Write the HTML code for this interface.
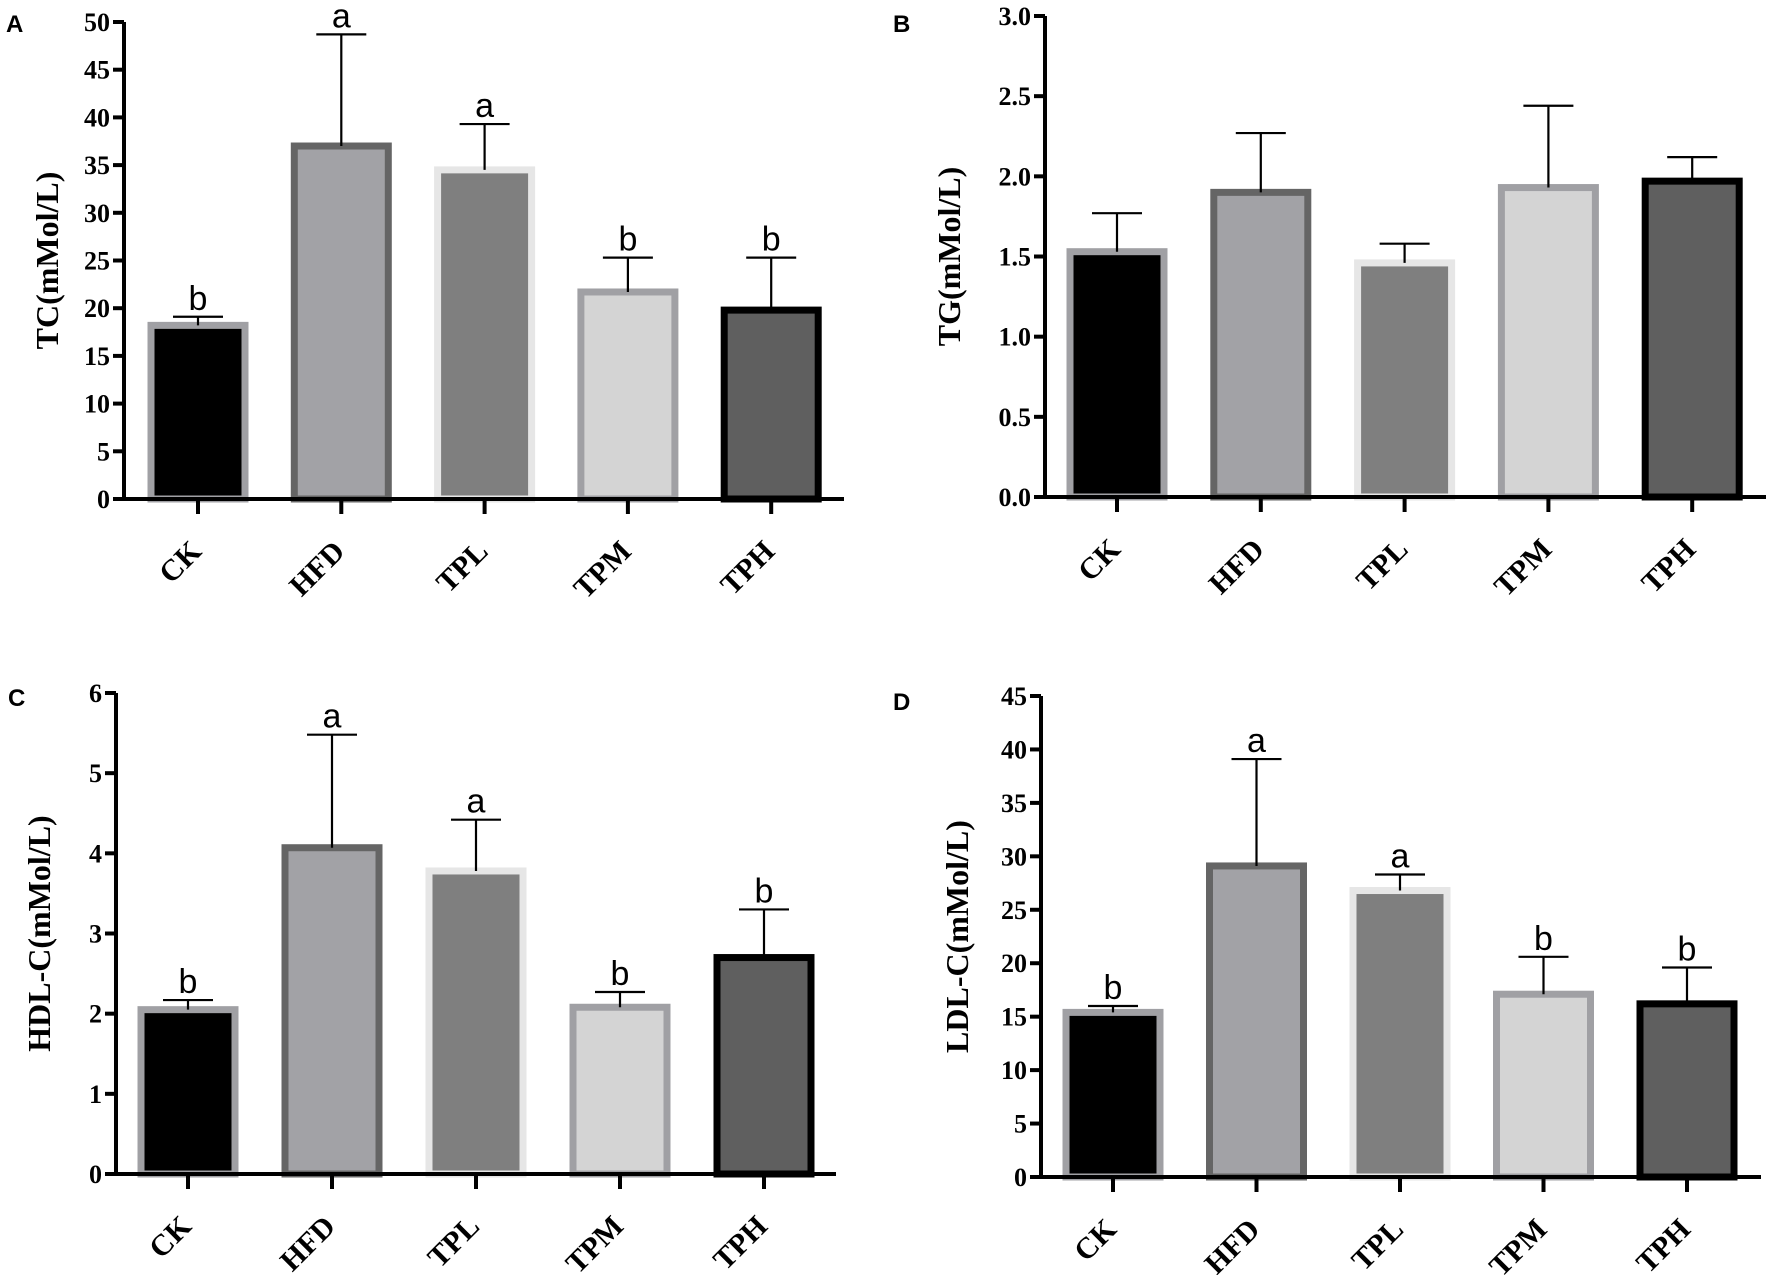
<!DOCTYPE html>
<html><head><meta charset="utf-8"><style>
html,body{margin:0;padding:0;background:#fff;}
svg{display:block;}
</style></head><body>
<svg id="fig" width="1772" height="1275" viewBox="0 0 1772 1275" xmlns="http://www.w3.org/2000/svg"></svg>
<script>
const categories = ["CK","HFD","TPL","TPM","TPH"];
const tcValues = [18.2, 37.0, 34.5, 21.7, 19.8];
const tcErr = [0.9, 11.7, 4.8, 3.6, 5.5];
const tcLetters = ["b","a","a","b","b"];
const tgValues = [1.53, 1.90, 1.46, 1.93, 1.97];
const tgErr = [0.24, 0.37, 0.12, 0.51, 0.15];
const tgLetters = ["","","","",""];
const hdlValues = [2.05, 4.07, 3.78, 2.08, 2.70];
const hdlErr = [0.12, 1.41, 0.64, 0.19, 0.60];
const hdlLetters = ["b","a","a","b","b"];
const ldlValues = [15.4, 29.1, 26.8, 17.1, 16.2];
const ldlErr = [0.6, 10.0, 1.5, 3.5, 3.4];
const ldlLetters = ["b","a","a","b","b"];
const tcTicks = ["0","5","10","15","20","25","30","35","40","45","50"];
const tgTicks = ["0.0","0.5","1.0","1.5","2.0","2.5","3.0"];
const hdlTicks = ["0","1","2","3","4","5","6"];
const ldlTicks = ["0","5","10","15","20","25","30","35","40","45"];

const fills = ["#000000","#a2a2a6","#7f7f7f","#d4d4d4","#5f5f5f"];
const strokes = ["#a0a0a4","#656565","#e6e6e6","#a0a0a4","#000000"];
const NS = "http://www.w3.org/2000/svg";
const svg = document.getElementById("fig");
function el(tag, attrs, parent){const e=document.createElementNS(NS,tag);for(const k in attrs)e.setAttribute(k,attrs[k]);(parent||svg).appendChild(e);return e;}

function panel(cfg){
  const g = el("g",{});
  
  
  const ymax = parseFloat(cfg.ticks[cfg.ticks.length-1]);
  const y = v => cfg.y0 - (v/ymax)*(cfg.y0-cfg.yTop);
  const x = i => cfg.x1 + i*cfg.step;
  const pl = el("text",{x:cfg.lx,y:cfg.ly,"font-family":"Liberation Sans, sans-serif","font-weight":"bold","font-size":"24"},g);
  pl.textContent = cfg.letter;
  
  
  cfg.values.forEach((v,i)=>{
    const w=94, top=y(v);
    const r = el("rect",{x:x(i)-w/2,y:top,width:w,height:cfg.y0-top,fill:fills[i],stroke:strokes[i],"stroke-width":7},g);
    
    
    const et = y(v+cfg.err[i]);
    const eb = el("path",{d:`M${x(i)},${top} V${et} M${x(i)-25},${et} H${x(i)+25}`,stroke:"#000","stroke-width":2.2,fill:"none"},g);
    
    
    if(cfg.letters[i]){
      const t = el("text",{x:x(i),y:et-7,"text-anchor":"middle","font-family":"Liberation Sans, sans-serif","font-size":"34"},g);
      t.textContent = cfg.letters[i];
      
      
    }
    const tk = el("line",{x1:x(i),x2:x(i),y1:cfg.y0,y2:cfg.y0+15,stroke:"#000","stroke-width":4},g);
    
    
    const cx=x(i)+5, cy=cfg.y0+54;
    const lab = el("text",{x:cx,y:cy,"text-anchor":"end","font-family":"Liberation Serif, serif","font-weight":"bold","font-size":"30",transform:`rotate(-45 ${cx} ${cy})`},g);
    lab.textContent = categories[i];
    
    
  });
  const ax = el("path",{d:`M${cfg.xa},${cfg.yTop} V${cfg.y0} H${cfg.xEnd}`,stroke:"#000","stroke-width":4,fill:"none"},g);
  
  
  cfg.ticks.forEach(tl=>{
    const yy = y(parseFloat(tl));
    const t = el("line",{x1:cfg.xa-11,x2:cfg.xa,y1:yy,y2:yy,stroke:"#000","stroke-width":4},g);
    
    
    const tx = el("text",{x:cfg.xa-14,y:yy+9,"text-anchor":"end","font-family":"Liberation Serif, serif","font-weight":"bold","font-size":"26"},g);
    tx.textContent = tl;
    
    
  });
  const ty=(cfg.yTop+cfg.y0)/2;
  const tt = el("text",{x:cfg.tx,y:ty,"text-anchor":"middle","font-family":"Liberation Serif, serif","font-weight":"bold","font-size":"32",transform:`rotate(-90 ${cfg.tx} ${ty})`},g);
  tt.textContent = cfg.title;
  
  
}
panel({letter:"A",lx:6,ly:32,xa:124,yTop:22,y0:499,xEnd:844,x1:198,step:143.3,ticks:tcTicks,values:tcValues,err:tcErr,letters:tcLetters,title:"TC(mMol/L)",tx:58});
panel({letter:"B",lx:893,ly:32,xa:1045,yTop:16,y0:497,xEnd:1766,x1:1117,step:143.8,ticks:tgTicks,values:tgValues,err:tgErr,letters:tgLetters,title:"TG(mMol/L)",tx:960});
panel({letter:"C",lx:8,ly:706,xa:116,yTop:693,y0:1174,xEnd:836,x1:188,step:144,ticks:hdlTicks,values:hdlValues,err:hdlErr,letters:hdlLetters,title:"HDL-C(mMol/L)",tx:50});
panel({letter:"D",lx:893,ly:710,xa:1041,yTop:696,y0:1177,xEnd:1761,x1:1113,step:143.5,ticks:ldlTicks,values:ldlValues,err:ldlErr,letters:ldlLetters,title:"LDL-C(mMol/L)",tx:968});
</script>
</body></html>
